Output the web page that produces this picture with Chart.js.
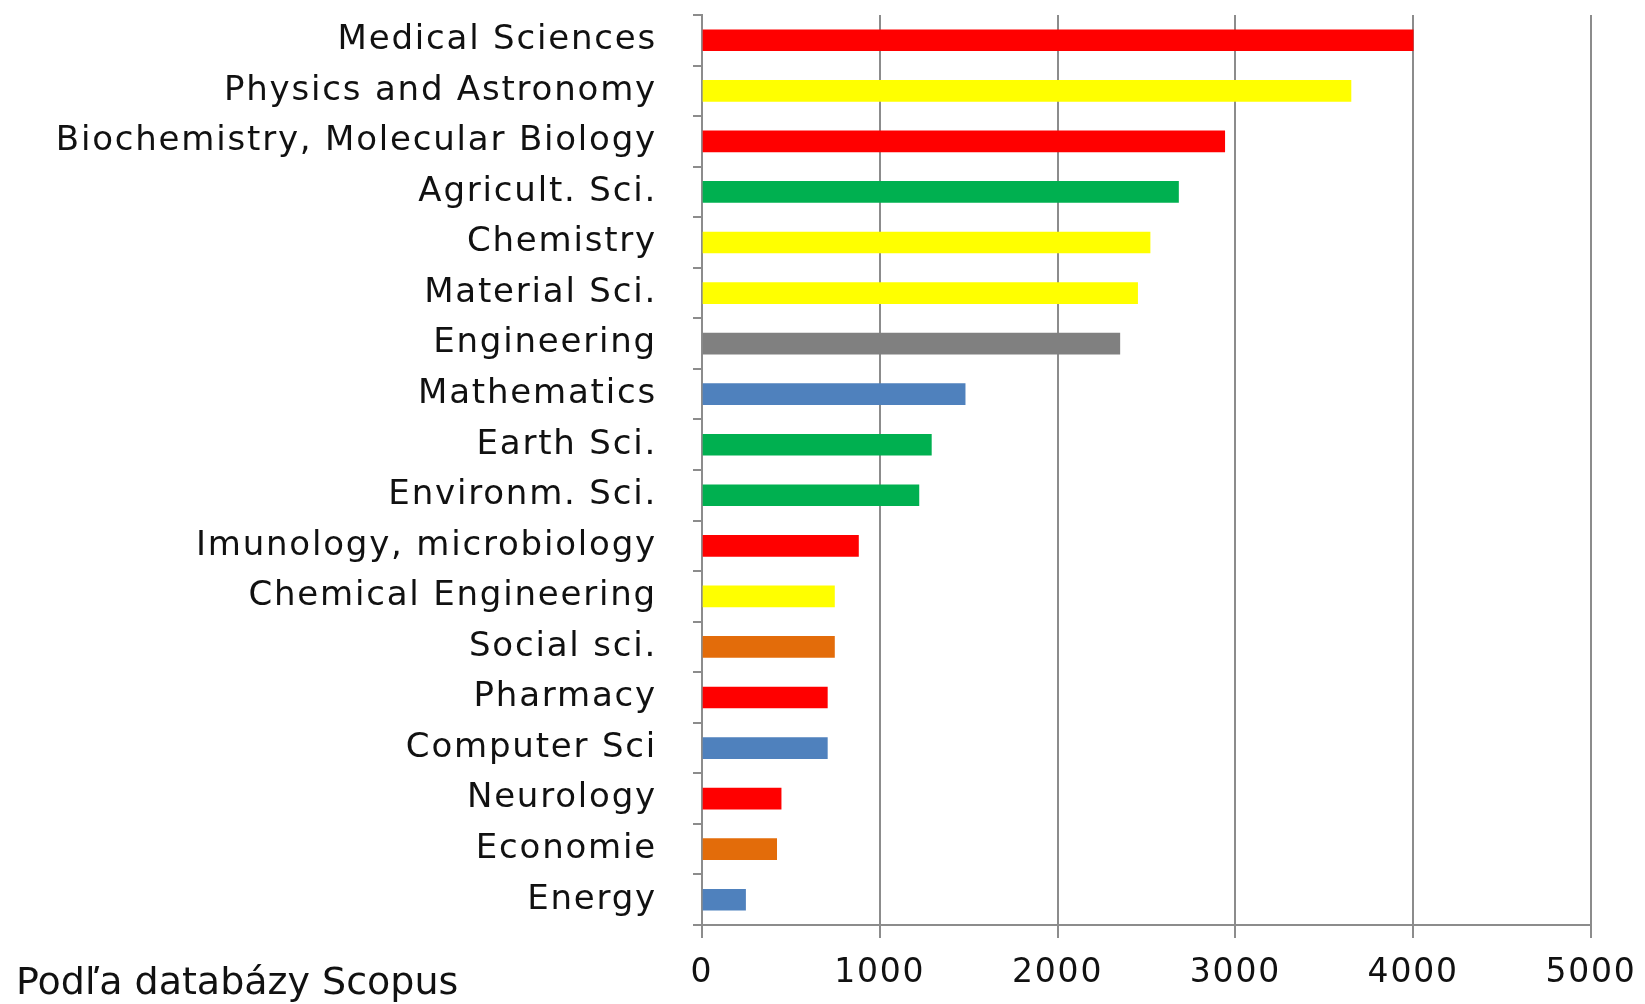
<!DOCTYPE html>
<html>
<head>
<meta charset="utf-8">
<script src="https://cdn.jsdelivr.net/npm/chart.js@4"></script>
<style>
  html, body { margin: 0; padding: 0; background: #fff; }
  #wrap { position: relative; width: 1645px; height: 1004px; }
  #note {
    position: absolute; left: 16px; top: 962px;
    font: 38px "DejaVu Sans", sans-serif; line-height: 1; color: #111;
    white-space: nowrap;
  }
</style>
</head>
<body>
<div id="wrap">
  <canvas id="barChart" width="1645" height="1004"></canvas>
  <div id="note">Podľa databázy Scopus</div>
</div>
<script>
// odbory (zhora nadol) a pocty publikacii
const categories = [
  'Medical Sciences', 'Physics and Astronomy', 'Biochemistry, Molecular Biology',
  'Agricult. Sci.', 'Chemistry', 'Material Sci.', 'Engineering', 'Mathematics',
  'Earth Sci.', 'Environm. Sci.', 'Imunology, microbiology', 'Chemical Engineering',
  'Social sci.', 'Pharmacy', 'Computer Sci', 'Neurology', 'Economie', 'Energy'
];
const counts = [4000, 3650, 2940, 2680, 2520, 2450, 2350, 1480, 1290, 1220, 880, 745, 745, 705, 705, 445, 420, 245];
const barColors = [
  '#ff0000', '#ffff00', '#ff0000', '#00b050', '#ffff00', '#ffff00', '#808080', '#4f81bd',
  '#00b050', '#00b050', '#ff0000', '#ffff00', '#e36c0a', '#ff0000', '#4f81bd', '#ff0000',
  '#e36c0a', '#4f81bd'
];
const xTicks = [0, 1000, 2000, 3000, 4000, 5000];

const gridGrey = '#8c8c8c';

// roztiahnutie pisma ako v predlohe
const spacingPlugin = {
  id: 'spacing',
  beforeDraw(chart) { chart.ctx.letterSpacing = '1.8px'; }
};

new Chart(document.getElementById('barChart'), {
  type: 'bar',
  data: {
    labels: categories,
    datasets: [{
      data: counts,
      backgroundColor: barColors,
      borderWidth: 0,
      barThickness: 21
    }]
  },
  options: {
    indexAxis: 'y',
    responsive: false,
    animation: false,
    layout: { autoPadding: false, padding: { top: 15, right: 54, left: 0, bottom: 0 } },
    plugins: { legend: { display: false }, tooltip: { enabled: false } },
    scales: {
      x: {
        min: 0, max: 5000,
        afterBuildTicks: (s) => { s.ticks = xTicks.map(v => ({ value: v })); },
        afterFit: (s) => { s.height = 79; s.paddingLeft = 0; s.paddingRight = 0; },
        grid: { color: gridGrey, lineWidth: 2, tickLength: 13, tickColor: gridGrey },
        border: { color: gridGrey, width: 2 },
        ticks: {
          color: '#111', padding: 16,
          font: { family: 'DejaVu Sans', size: 33 },
          callback: (v) => String(v)
        }
      },
      y: {
        afterFit: (s) => { s.width = 702; s.paddingTop = 0; s.paddingBottom = 0; },
        grid: { drawOnChartArea: false, offset: true, tickLength: 9, tickColor: gridGrey, lineWidth: 2 },
        border: { color: gridGrey, width: 2 },
        ticks: { color: '#111', padding: 36, autoSkip: false, font: { family: 'DejaVu Sans', size: 34 } }
      }
    }
  },
  plugins: [spacingPlugin]
});
</script>
</body>
</html>
